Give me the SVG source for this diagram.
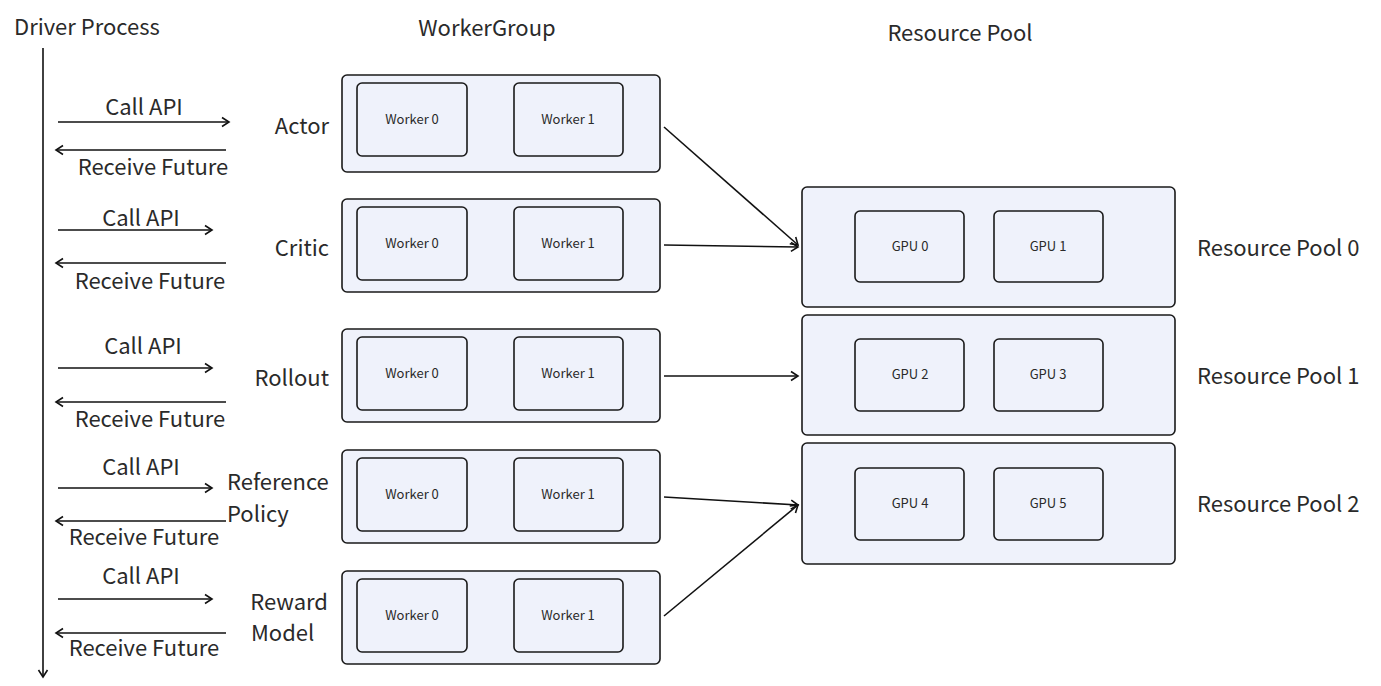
<svg xmlns="http://www.w3.org/2000/svg" width="1381" height="686" viewBox="0 0 1381 686">
<style>
text{font-family:"Noto Sans CJK SC","Noto Sans",sans-serif;fill:#2a2a2a}
.lbl{font-size:22px}
.sm{font-size:13px;text-anchor:middle}
.box{fill:#eff2fb;stroke:#1a1a1a;stroke-width:1.6}
.ln{stroke:#111;stroke-width:1.6;fill:none}
</style>
<defs>
<marker id="ah" viewBox="0 0 12 12" refX="10" refY="6" markerWidth="12" markerHeight="12" markerUnits="userSpaceOnUse" orient="auto">
<path d="M3,1.5 L10,6 L3,10.5" fill="none" stroke="#111" stroke-width="1.6"/>
</marker>
</defs>
<rect width="1381" height="686" fill="#fff"/>
<text class="lbl" x="14" y="35">Driver Process</text>
<text class="lbl" x="487" y="36" text-anchor="middle">WorkerGroup</text>
<text class="lbl" x="960" y="41" text-anchor="middle">Resource Pool</text>

<g id="driver-calls">
<text class="lbl" x="144" y="115" text-anchor="middle">Call API</text>
<text class="lbl" x="153" y="175" text-anchor="middle">Receive Future</text>
<text class="lbl" x="141" y="226" text-anchor="middle">Call API</text>
<text class="lbl" x="150" y="289" text-anchor="middle">Receive Future</text>
<text class="lbl" x="143" y="354" text-anchor="middle">Call API</text>
<text class="lbl" x="150" y="427" text-anchor="middle">Receive Future</text>
<text class="lbl" x="141" y="475" text-anchor="middle">Call API</text>
<text class="lbl" x="144" y="545" text-anchor="middle">Receive Future</text>
<text class="lbl" x="141" y="584" text-anchor="middle">Call API</text>
<text class="lbl" x="144" y="656" text-anchor="middle">Receive Future</text>
</g>

<g id="actor">
<text class="lbl" x="329" y="134" text-anchor="end">Actor</text>
<rect class="box" x="342" y="75" width="318" height="97" rx="5"/>
<rect class="box" x="357" y="83" width="110" height="73" rx="5"/>
<text class="sm" x="412" y="124">Worker 0</text>
<rect class="box" x="514" y="83" width="109" height="73" rx="5"/>
<text class="sm" x="568" y="124">Worker 1</text>
</g>
<g id="critic">
<text class="lbl" x="329" y="256" text-anchor="end">Critic</text>
<rect class="box" x="342" y="199" width="318" height="93" rx="5"/>
<rect class="box" x="357" y="207" width="110" height="73" rx="5"/>
<text class="sm" x="412" y="248">Worker 0</text>
<rect class="box" x="514" y="207" width="109" height="73" rx="5"/>
<text class="sm" x="568" y="248">Worker 1</text>
</g>
<g id="rollout">
<text class="lbl" x="329" y="386" text-anchor="end">Rollout</text>
<rect class="box" x="342" y="329" width="318" height="93" rx="5"/>
<rect class="box" x="357" y="337" width="110" height="73" rx="5"/>
<text class="sm" x="412" y="378">Worker 0</text>
<rect class="box" x="514" y="337" width="109" height="73" rx="5"/>
<text class="sm" x="568" y="378">Worker 1</text>
</g>
<g id="reference-policy">
<text class="lbl" x="227" y="490">Reference</text>
<text class="lbl" x="227" y="522">Policy</text>
<rect class="box" x="342" y="450" width="318" height="93" rx="5"/>
<rect class="box" x="357" y="458" width="110" height="73" rx="5"/>
<text class="sm" x="412" y="499">Worker 0</text>
<rect class="box" x="514" y="458" width="109" height="73" rx="5"/>
<text class="sm" x="568" y="499">Worker 1</text>
</g>
<g id="reward-model">
<text class="lbl" x="328" y="610" text-anchor="end">Reward</text>
<text class="lbl" x="251" y="641">Model</text>
<rect class="box" x="342" y="571" width="318" height="93" rx="5"/>
<rect class="box" x="357" y="579" width="110" height="73" rx="5"/>
<text class="sm" x="412" y="620">Worker 0</text>
<rect class="box" x="514" y="579" width="109" height="73" rx="5"/>
<text class="sm" x="568" y="620">Worker 1</text>
</g>

<g id="pool0">
<rect class="box" x="802" y="187" width="373" height="120" rx="5"/>
<rect class="box" x="855" y="211" width="109" height="71" rx="5"/>
<text class="sm" x="910" y="251">GPU 0</text>
<rect class="box" x="994" y="211" width="109" height="71" rx="5"/>
<text class="sm" x="1048" y="251">GPU 1</text>
<text class="lbl" x="1197" y="256">Resource Pool 0</text>
</g>
<g id="pool1">
<rect class="box" x="802" y="315" width="373" height="120" rx="5"/>
<rect class="box" x="855" y="339" width="109" height="72" rx="5"/>
<text class="sm" x="910" y="379">GPU 2</text>
<rect class="box" x="994" y="339" width="109" height="72" rx="5"/>
<text class="sm" x="1048" y="379">GPU 3</text>
<text class="lbl" x="1197" y="384">Resource Pool 1</text>
</g>
<g id="pool2">
<rect class="box" x="802" y="443" width="373" height="121" rx="5"/>
<rect class="box" x="855" y="468" width="109" height="72" rx="5"/>
<text class="sm" x="910" y="508">GPU 4</text>
<rect class="box" x="994" y="468" width="109" height="72" rx="5"/>
<text class="sm" x="1048" y="508">GPU 5</text>
<text class="lbl" x="1197" y="512">Resource Pool 2</text>
</g>

<g id="connectors">
<line class="ln" x1="43" y1="48" x2="43" y2="677" marker-end="url(#ah)"/>
<line class="ln" x1="58" y1="122" x2="229" y2="122" marker-end="url(#ah)"/>
<line class="ln" x1="226" y1="150" x2="56" y2="150" marker-end="url(#ah)"/>
<line class="ln" x1="58" y1="230" x2="212" y2="230" marker-end="url(#ah)"/>
<line class="ln" x1="226" y1="263" x2="56" y2="263" marker-end="url(#ah)"/>
<line class="ln" x1="58" y1="368" x2="212" y2="368" marker-end="url(#ah)"/>
<line class="ln" x1="226" y1="402" x2="56" y2="402" marker-end="url(#ah)"/>
<line class="ln" x1="58" y1="488" x2="212" y2="488" marker-end="url(#ah)"/>
<line class="ln" x1="226" y1="521" x2="56" y2="521" marker-end="url(#ah)"/>
<line class="ln" x1="58" y1="599" x2="212" y2="599" marker-end="url(#ah)"/>
<line class="ln" x1="226" y1="633" x2="56" y2="633" marker-end="url(#ah)"/>
<line class="ln" x1="664" y1="127" x2="798" y2="245" marker-end="url(#ah)"/>
<line class="ln" x1="664" y1="245" x2="798" y2="247" marker-end="url(#ah)"/>
<line class="ln" x1="664" y1="376" x2="798" y2="376" marker-end="url(#ah)"/>
<line class="ln" x1="664" y1="497" x2="798" y2="505" marker-end="url(#ah)"/>
<line class="ln" x1="664" y1="616" x2="798" y2="505" marker-end="url(#ah)"/>
</g>
</svg>
